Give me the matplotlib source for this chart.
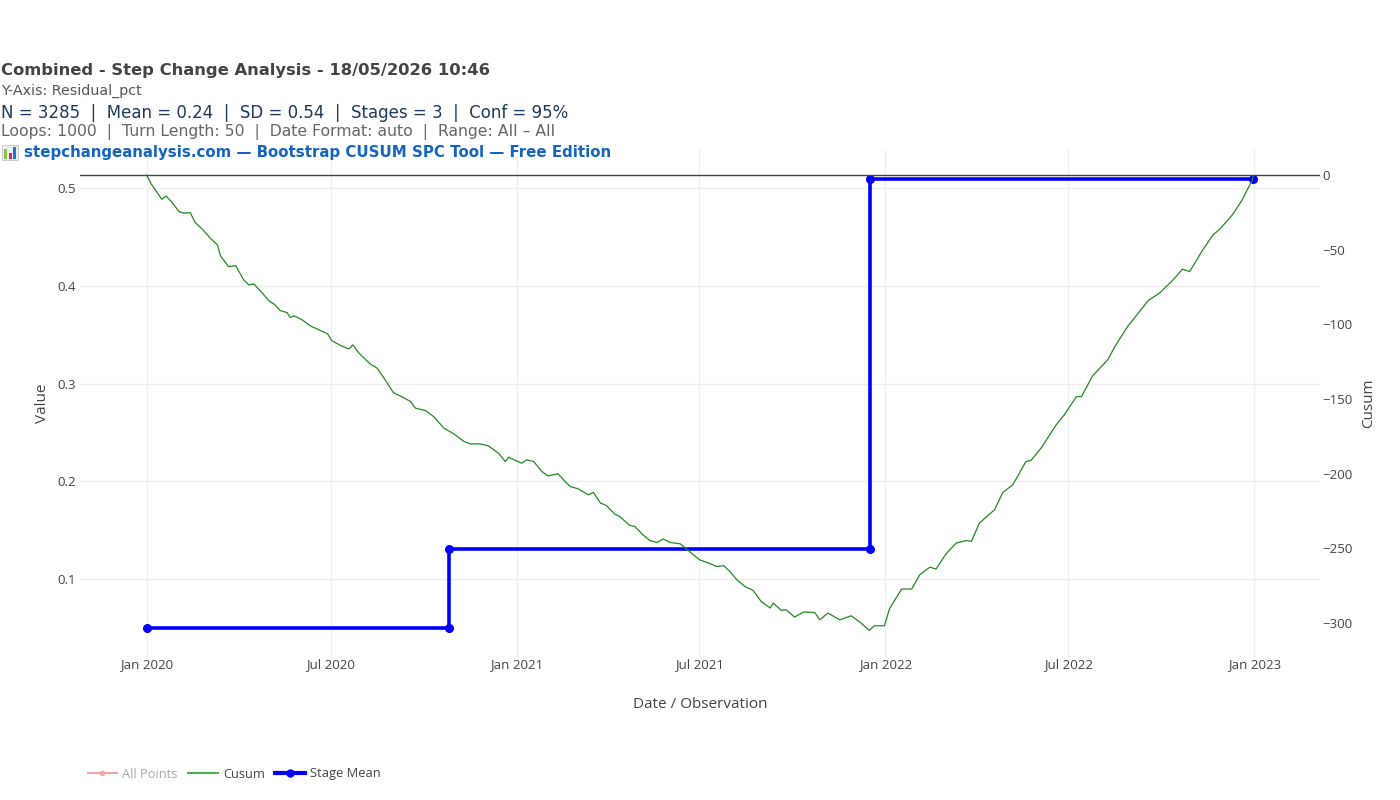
import matplotlib
matplotlib.use("Agg")
import matplotlib.pyplot as plt
import matplotlib.dates as mdates
from matplotlib.lines import Line2D
from matplotlib.patches import Rectangle
import pandas as pd

# ---------------- data ----------------
start_date = "2020-01-01"
# cusum readings: day offset from start_date, cusum value
cusum_day = [0, 4, 15, 19, 25, 32, 37, 43, 48, 55, 63, 70, 73, 81, 88, 96, 101, 106,
             114, 121, 127, 132, 139, 142, 146, 154, 162, 172, 179, 183, 192, 200, 204,
             210, 221, 228, 236, 244, 254, 261, 266, 276, 284, 294, 304, 314, 320, 330,
             338, 348, 355, 358, 365, 371, 376, 383, 391, 397, 407, 414, 419, 427, 437,
             442, 449, 455, 463, 468, 478, 483, 491, 498, 505, 511, 518, 528, 536, 547,
             556, 564, 571, 577, 584, 592, 600, 608, 617, 620, 628, 633, 641, 650, 661,
             666, 674, 686, 697, 707, 715, 720, 730, 735, 747, 757, 765, 775, 781, 791,
             801, 811, 816, 824, 839, 847, 857, 870, 875, 885, 900, 908, 920, 925, 936,
             951, 958, 971, 979, 991, 1002, 1014, 1025, 1032, 1045, 1055, 1061, 1070,
             1075, 1084, 1094, 1095]
cusum_val = [0, -5.6, -16.3, -14.1, -18.3, -24.6, -25.6, -25.2, -31.9, -36.3, -42.4,
             -46.9, -54.2, -61.4, -60.7, -70.3, -73.6, -73.0, -78.8, -84.3, -87.0, -90.8,
             -92.2, -95.5, -94.4, -97.1, -101.1, -104.2, -106.4, -110.9, -114.3, -116.5,
             -113.8, -119.3, -126.5, -129.4, -137.2, -145.7, -149.1, -151.7, -156.2,
             -157.8, -161.8, -169.5, -173.4, -178.5, -180.1, -180.1, -181.4, -186.3,
             -191.9, -189.1, -191.2, -193.0, -190.8, -191.9, -198.6, -201.5, -200.1,
             -205.3, -208.6, -210.2, -214.2, -212.6, -219.7, -221.4, -227.1, -228.7,
             -234.7, -235.4, -241.0, -244.8, -246.1, -243.8, -246.1, -247.0, -251.5,
             -257.7, -259.9, -262.2, -261.7, -265.5, -271.1, -275.6, -278.2, -285.6,
             -290.0, -286.7, -291.6, -291.2, -296.1, -292.7, -293.0, -297.9, -293.4,
             -297.9, -295.2, -300.1, -305.0, -301.9, -301.9, -290.5, -277.3, -277.3,
             -267.7, -262.6, -263.9, -253.7, -246.5, -244.8, -245.4, -233.1, -224.2,
             -212.7, -207.5, -191.9, -191.2, -182.9, -167.3, -160.6, -148.4, -148.4,
             -134.5, -123.8, -114.9, -101.1, -94.4, -84.1, -79.2, -71.4, -63.1, -64.7,
             -50.2, -40.2, -36.8, -30.1, -26.1, -16.7, -3.3, -1.0]

stage_dates = ["2020-01-01", "2020-10-26", "2020-10-26", "2021-12-17", "2021-12-17", "2022-12-31"]
stage_means = [0.05, 0.05, 0.131, 0.131, 0.5095, 0.5095]

title = "Combined - Step Change Analysis - 18/05/2026 10:46"
sub1 = "Y-Axis: Residual_pct"
sub2 = "N = 3285  |  Mean = 0.24  |  SD = 0.54  |  Stages = 3  |  Conf = 95%"
sub3 = "Loops: 1000  |  Turn Length: 50  |  Date Format: auto  |  Range: All \u2013 All"
sub4 = "stepchangeanalysis.com \u2014 Bootstrap CUSUM SPC Tool \u2014 Free Edition"

left_ticks = [0.1, 0.2, 0.3, 0.4, 0.5]
right_ticks = [0, -50, -100, -150, -200, -250, -300]

# ---------------- figure ----------------
W, H = 1400, 800
fig = plt.figure(figsize=(W / 100, H / 100), dpi=100)
fig.patch.set_facecolor("white")

L, R, T, B = 80, 1320, 150, 657
ax = fig.add_axes([L / W, 1 - B / H, (R - L) / W, (B - T) / H])
ax2 = ax.twinx()

t0 = pd.Timestamp(start_date)
cx = [t0 + pd.Timedelta(days=d) for d in cusum_day]
sx = pd.to_datetime(stage_dates)

ax.plot(sx, stage_means, color="#0000ff", lw=2.6, marker="o", ms=5.5, zorder=3,
        solid_joinstyle="miter")
ax2.axhline(0, color="#444444", lw=1.0, zorder=1)
ax2.plot(cx, cusum_val, color="#1e8c1e", lw=0.9, zorder=4)

ax.set_xlim(pd.Timestamp("2019-10-27"), pd.Timestamp("2023-03-07"))
ax.set_ylim(0.0201, 0.5392)
ax2.set_ylim(-322.8, 16.7)

ax.xaxis.set_major_locator(mdates.MonthLocator(bymonth=[1, 7]))
ax.xaxis.set_major_formatter(mdates.DateFormatter("%b %Y"))
ax.set_yticks(left_ticks)
ax.set_yticklabels([f"{v:g}" for v in left_ticks])
ax2.set_yticks(right_ticks)

for a in (ax, ax2):
    for s in a.spines.values():
        s.set_visible(False)
    a.tick_params(length=0, labelsize=9.5, colors="#444444")
    for lab in a.get_xticklabels() + a.get_yticklabels():
        lab.set_fontfamily("Open Sans")
ax.tick_params(axis="y", pad=3)
ax.tick_params(axis="x", pad=1)
ax2.tick_params(axis="y", pad=2)

ax.grid(True, color="#eeeeee", lw=1.0)
ax.set_axisbelow(True)
ax2.grid(False)

ax.set_ylabel("Value", fontsize=11, color="#444444", family="Open Sans", labelpad=5)
ax2.set_ylabel("Cusum", fontsize=11, color="#444444", family="Open Sans", labelpad=6)
ax.set_xlabel("Date / Observation", fontsize=11, color="#444444", family="Open Sans",
              labelpad=18.5)

# ---------------- header ----------------
def fy(y):
    return 1 - y / H

fig.text(1 / W, fy(70.5), title, fontsize=11.8, fontweight="bold", color="#444444",
         va="center", ha="left", family="DejaVu Sans")
fig.text(1 / W, fy(91), sub1, fontsize=10.3, color="#555555", va="center", ha="left",
         family="DejaVu Sans")
fig.text(1 / W, fy(112.5), sub2, fontsize=12.0, color="#1c3a5e", va="center", ha="left",
         family="DejaVu Sans")
fig.text(1 / W, fy(132.5), sub3, fontsize=11.25, color="#666666", va="center", ha="left",
         family="DejaVu Sans")
fig.text(24 / W, fy(153), sub4, fontsize=10.8, fontweight="bold", color="#1565c0",
         va="center", ha="left", family="DejaVu Sans")

# small chart icon next to the link line
fig.add_artist(Rectangle((2 / W, fy(160)), 16 / W, 15 / H, transform=fig.transFigure,
                         facecolor="#eeeeee", edgecolor="#bbbbbb", lw=0.5))
for bx, bh, bc in [(4, 10, "#8bc34a"), (9, 6, "#e91e63"), (13, 12, "#1976d2")]:
    fig.add_artist(Rectangle((bx / W, fy(159)), 3 / W, bh / H, transform=fig.transFigure,
                             facecolor=bc, edgecolor="none"))

# ---------------- legend ----------------
handles = [
    Line2D([], [], color="#f4a6a6", lw=1.5, marker="o", ms=3),
    Line2D([], [], color="#4caf50", lw=1.5),
    Line2D([], [], color="#0000ff", lw=3, marker="o", ms=5),
]
labels = ["All Points", "Cusum", "Stage Mean"]
leg = fig.legend(handles, labels, loc="center left", bbox_to_anchor=(76 / W, fy(774)),
                 ncol=3, frameon=False, handlelength=2.3, handletextpad=0.4,
                 columnspacing=0.8, prop={"family": "Open Sans", "size": 9.3})
for txt, c in zip(leg.get_texts(), ["#aaaaaa", "#444444", "#444444"]):
    txt.set_color(c)

fig.savefig("out.png", dpi=100, facecolor="white")
